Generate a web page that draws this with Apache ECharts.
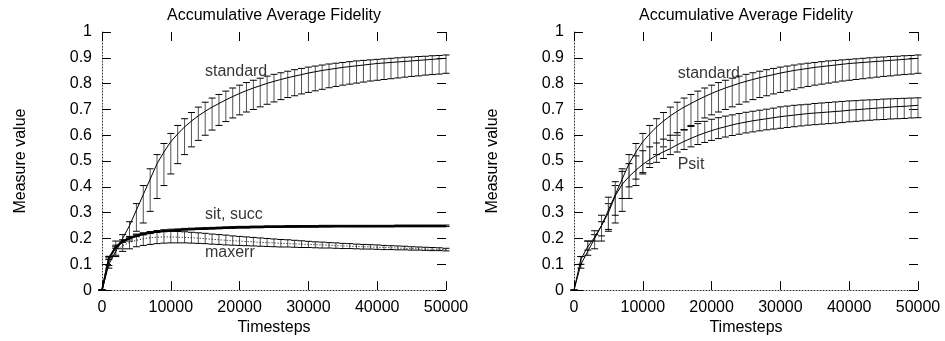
<!DOCTYPE html>
<html>
<head>
<meta charset="utf-8">
<script src="https://cdn.jsdelivr.net/npm/echarts@6/dist/echarts.min.js"></script>
<style>html,body{margin:0;padding:0;background:#fff}#c{width:945px;height:341px}</style>
</head>
<body>
<div id="c"></div>
<script>
// Timesteps (every 1000)
const timesteps = [0,1000,2000,3000,4000,5000,6000,7000,8000,9000,10000,11000,12000,13000,14000,15000,16000,17000,18000,19000,20000,21000,22000,23000,24000,25000,26000,27000,28000,29000,30000,31000,32000,33000,34000,35000,36000,37000,38000,39000,40000,41000,42000,43000,44000,45000,46000,47000,48000,49000,50000];
const xTicks = [0,10000,20000,30000,40000,50000];

// "standard" (both panels)
const standardMean = [0,0.10,0.15,0.20,0.25,0.31,0.37,0.43,0.49,0.535,0.575,0.605,0.632,0.655,0.675,0.693,0.709,0.723,0.737,0.750,0.762,0.773,0.783,0.792,0.801,0.809,0.816,0.823,0.829,0.835,0.841,0.846,0.851,0.855,0.859,0.863,0.866,0.869,0.872,0.875,0.878,0.880,0.882,0.884,0.886,0.888,0.890,0.892,0.894,0.896,0.898];
const standardLow = [0,0.085,0.135,0.16,0.19,0.228,0.26,0.305,0.355,0.405,0.45,0.49,0.525,0.555,0.58,0.60,0.62,0.638,0.653,0.667,0.679,0.69,0.70,0.71,0.72,0.729,0.738,0.746,0.753,0.76,0.766,0.772,0.778,0.784,0.789,0.794,0.798,0.802,0.806,0.81,0.813,0.816,0.819,0.822,0.825,0.828,0.83,0.833,0.835,0.837,0.84];
const standardHigh = [0,0.13,0.19,0.215,0.265,0.335,0.405,0.47,0.525,0.568,0.607,0.638,0.664,0.688,0.709,0.728,0.744,0.758,0.771,0.783,0.794,0.804,0.813,0.821,0.829,0.836,0.842,0.848,0.854,0.859,0.864,0.868,0.872,0.876,0.879,0.882,0.885,0.888,0.89,0.892,0.894,0.896,0.898,0.9,0.902,0.903,0.905,0.906,0.908,0.909,0.911];

// "sit, succ" (left panel)
const sitMean = [0,0.125,0.168,0.19,0.203,0.212,0.218,0.223,0.227,0.23,0.232,0.234,0.236,0.237,0.238,0.239,0.240,0.241,0.242,0.243,0.244,0.244,0.245,0.245,0.246,0.246,0.246,0.247,0.247,0.247,0.247,0.247,0.248,0.248,0.248,0.248,0.248,0.248,0.248,0.248,0.248,0.248,0.248,0.249,0.249,0.249,0.249,0.249,0.249,0.249,0.249];
const succMean = [0,0.122,0.165,0.187,0.2,0.209,0.216,0.221,0.225,0.228,0.23,0.232,0.234,0.235,0.236,0.237,0.238,0.239,0.240,0.241,0.242,0.242,0.243,0.243,0.244,0.244,0.245,0.245,0.245,0.246,0.246,0.246,0.246,0.246,0.247,0.247,0.247,0.247,0.247,0.247,0.247,0.247,0.247,0.247,0.247,0.247,0.247,0.247,0.247,0.247,0.247];
const sitErr = [0,0.006,0.006,0.005,0.005,0.005,0.004,0.004,0.004,0.004,0.004,0.003,0.003,0.003,0.003,0.003,0.003,0.003,0.003,0.003,0.003,0.003,0.003,0.003,0.003,0.003,0.003,0.003,0.003,0.003,0.003,0.003,0.003,0.003,0.003,0.003,0.003,0.003,0.003,0.003,0.003,0.003,0.003,0.003,0.003,0.003,0.003,0.003,0.003,0.003,0.003];

// "maxerr" (left panel)
const maxerrMean = [0,0.11,0.15,0.172,0.185,0.193,0.199,0.203,0.205,0.206,0.206,0.205,0.204,0.203,0.201,0.199,0.197,0.195,0.193,0.191,0.190,0.188,0.187,0.185,0.184,0.183,0.181,0.180,0.179,0.178,0.177,0.176,0.175,0.174,0.172,0.171,0.170,0.169,0.168,0.167,0.166,0.165,0.164,0.163,0.162,0.161,0.160,0.159,0.158,0.158,0.157];
const maxerrLow = [0,0.095,0.13,0.15,0.16,0.168,0.173,0.177,0.18,0.182,0.183,0.183,0.183,0.182,0.181,0.18,0.178,0.177,0.175,0.174,0.173,0.172,0.171,0.17,0.169,0.168,0.167,0.167,0.166,0.165,0.165,0.164,0.163,0.163,0.162,0.161,0.161,0.16,0.159,0.159,0.158,0.157,0.157,0.156,0.156,0.155,0.155,0.154,0.153,0.153,0.152];
const maxerrHigh = [0,0.125,0.168,0.19,0.205,0.214,0.22,0.224,0.227,0.228,0.228,0.227,0.226,0.224,0.222,0.22,0.217,0.215,0.213,0.21,0.208,0.206,0.204,0.202,0.2,0.198,0.196,0.195,0.193,0.191,0.189,0.187,0.186,0.184,0.183,0.181,0.18,0.178,0.177,0.176,0.175,0.173,0.172,0.171,0.17,0.168,0.167,0.166,0.165,0.164,0.162];

// "Psit" (right panel)
const psitMean = [0,0.12,0.168,0.205,0.25,0.30,0.365,0.41,0.44,0.465,0.487,0.506,0.522,0.536,0.548,0.563,0.576,0.588,0.599,0.609,0.618,0.626,0.633,0.64,0.646,0.651,0.656,0.66,0.664,0.668,0.672,0.675,0.678,0.681,0.684,0.686,0.688,0.69,0.692,0.694,0.697,0.699,0.701,0.703,0.705,0.707,0.709,0.711,0.712,0.714,0.716];
const psitLow = [0,0.10,0.155,0.19,0.21,0.235,0.29,0.355,0.40,0.43,0.455,0.475,0.495,0.51,0.525,0.535,0.545,0.555,0.564,0.572,0.58,0.587,0.593,0.599,0.604,0.609,0.613,0.617,0.621,0.624,0.627,0.63,0.633,0.636,0.639,0.641,0.643,0.645,0.647,0.649,0.652,0.654,0.656,0.658,0.66,0.661,0.663,0.664,0.665,0.667,0.668];
const psitHigh = [0,0.13,0.19,0.23,0.29,0.36,0.42,0.46,0.49,0.52,0.54,0.555,0.57,0.585,0.60,0.61,0.622,0.634,0.645,0.654,0.662,0.668,0.674,0.679,0.684,0.689,0.693,0.697,0.701,0.705,0.71,0.713,0.716,0.718,0.72,0.723,0.725,0.727,0.729,0.731,0.733,0.734,0.736,0.737,0.738,0.74,0.741,0.742,0.743,0.744,0.745];

// Curve labels: [text, timestep, value, panel]
const curveLabels = [
  ['standard', 14970, 0.848, 0],
  ['sit, succ', 14970, 0.293, 0],
  ['maxerr', 14970, 0.1445, 0],
  ['standard', 15070, 0.837, 1],
  ['Psit', 15070, 0.487, 1]
];

const FONT = 'Liberation Sans, Arial, Helvetica, sans-serif';
const pairs = (ys) => timesteps.map((t, i) => [t, ys[i]]);
const triples = (lo, hi) => timesteps.map((t, i) => [t, lo[i], hi[i]]);

function errRender(params, api) {
  const x = api.value(0), lo = api.value(1), hi = api.value(2);
  const a = api.coord([x, lo]), b = api.coord([x, hi]);
  const w = 3.5;
  return {
    type: 'group',
    children: [
      {type: 'line', shape: {x1: a[0], y1: a[1], x2: b[0], y2: b[1]}, style: {stroke: '#555', lineWidth: 1}},
      {type: 'line', shape: {x1: a[0]-w, y1: a[1], x2: a[0]+w, y2: a[1]}, style: {stroke: '#000', lineWidth: 1}},
      {type: 'line', shape: {x1: b[0]-w, y1: b[1], x2: b[0]+w, y2: b[1]}, style: {stroke: '#000', lineWidth: 1}}
    ]
  };
}

function errSeries(lo, hi, xi, yi) {
  return {type: 'custom', xAxisIndex: xi, yAxisIndex: yi, renderItem: errRender,
    encode: {x: 0, y: [1, 2]}, data: triples(lo, hi), silent: true, z: 2};
}
function lineSeries(ys, xi, yi, width, type) {
  return {type: 'line', xAxisIndex: xi, yAxisIndex: yi, data: pairs(ys), showSymbol: false,
    symbol: 'none', silent: true, z: 3,
    lineStyle: {color: '#000', width: width, type: type || 'solid'}};
}

const grids = [
  {left: 102, right: 499, top: 32, bottom: 46},
  {left: 574, right: 27, top: 32, bottom: 46}
];

const xAxes = [], yAxes = [];
grids.forEach((g, gi) => {
  xAxes.push({
    gridIndex: gi, type: 'value', position: 'bottom', min: xTicks[0], max: xTicks[xTicks.length - 1], interval: 10000,
    name: 'Timesteps', nameLocation: 'middle', nameGap: 24,
    nameTextStyle: {fontFamily: FONT, fontSize: 16, color: '#000'},
    axisLine: {show: true, onZero: false, lineStyle: {color: '#333', width: 1, type: [1, 2]}},
    axisTick: {show: true, inside: true, length: 9, lineStyle: {color: '#000', width: 1, type: 'solid'}},
    axisLabel: {fontFamily: FONT, fontSize: 16, color: '#000', margin: 9, formatter: v => String(v)},
    splitLine: {show: false}
  });
  xAxes.push({
    gridIndex: gi, type: 'value', position: 'top', min: 0, max: 50000, interval: 10000,
    axisLine: {show: false, onZero: false},
    axisTick: {show: true, inside: true, length: 9, lineStyle: {color: '#000', width: 1}},
    axisLabel: {show: false}, splitLine: {show: false}
  });
  yAxes.push({
    gridIndex: gi, type: 'value', position: 'left', min: 0, max: 1, interval: 0.1,
    name: 'Measure value', nameLocation: 'middle', nameGap: 73, nameRotate: 90,
    nameTextStyle: {fontFamily: FONT, fontSize: 16, color: '#000'},
    axisLine: {show: true, onZero: false, lineStyle: {color: '#333', width: 1, type: [1, 2]}},
    axisTick: {show: true, inside: true, length: 9, lineStyle: {color: '#000', width: 1, type: 'solid'}},
    axisLabel: {fontFamily: FONT, fontSize: 16, color: '#000', margin: 10},
    splitLine: {show: false}
  });
  yAxes.push({
    gridIndex: gi, type: 'value', position: 'right', min: 0, max: 1, interval: 0.1,
    axisLine: {show: false, onZero: false},
    axisTick: {show: true, inside: true, length: 9, lineStyle: {color: '#000', width: 1}},
    axisLabel: {show: false}, splitLine: {show: false}
  });
});

const series = [
  errSeries(standardLow, standardHigh, 0, 0),
  lineSeries(standardMean, 0, 0, 1),
  errSeries(maxerrLow, maxerrHigh, 0, 0),
  lineSeries(maxerrMean, 0, 0, 1, [1, 2]),
  errSeries(sitMean.map((v, i) => v - sitErr[i]), sitMean.map((v, i) => v + sitErr[i]), 0, 0),
  lineSeries(sitMean, 0, 0, 1.6),
  lineSeries(succMean, 0, 0, 1.6),
  errSeries(standardLow, standardHigh, 2, 2),
  lineSeries(standardMean, 2, 2, 1),
  errSeries(psitLow, psitHigh, 2, 2),
  lineSeries(psitMean, 2, 2, 1)
];

[0, 1].forEach(p => {
  series.push({
    type: 'scatter', xAxisIndex: p * 2, yAxisIndex: p * 2, symbolSize: 0, silent: true, z: 5,
    data: curveLabels.filter(l => l[3] === p).map(l => ({name: l[0], value: [l[1], l[2]]})),
    label: {show: true, position: 'right', distance: 0, formatter: '{b}',
      fontFamily: FONT, fontSize: 16, color: '#000'}
  });
});

const chart = echarts.init(document.getElementById('c'), null, {renderer: 'canvas'});
chart.setOption({
  animation: false,
  backgroundColor: '#fff',
  title: [
    {text: 'Accumulative Average Fidelity', left: 274, top: 8, textAlign: 'center', padding: 0,
      textStyle: {fontFamily: FONT, fontSize: 16, fontWeight: 'normal', color: '#000'}},
    {text: 'Accumulative Average Fidelity', left: 746, top: 8, textAlign: 'center', padding: 0,
      textStyle: {fontFamily: FONT, fontSize: 16, fontWeight: 'normal', color: '#000'}}
  ],
  grid: grids,
  xAxis: xAxes,
  yAxis: yAxes,
  series: series
});
</script>
</body>
</html>
